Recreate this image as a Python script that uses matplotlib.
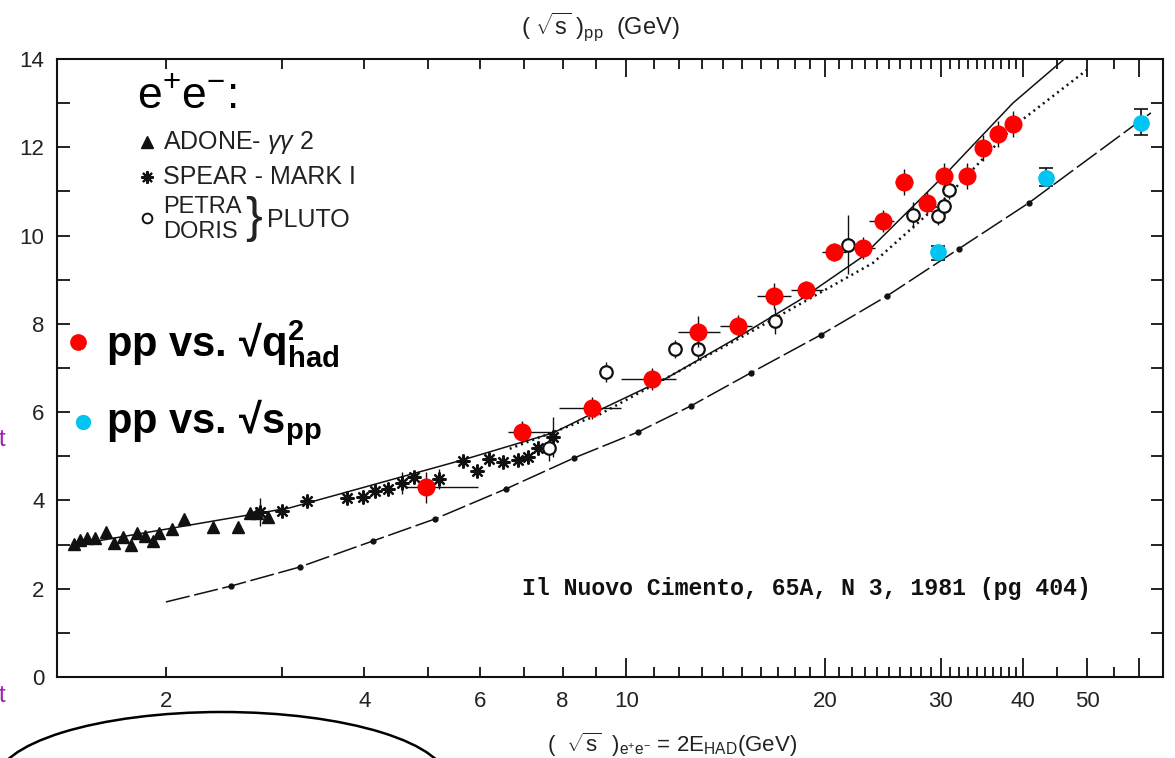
import matplotlib
matplotlib.use('Agg')
import matplotlib.pyplot as plt
from matplotlib.patches import Ellipse
from matplotlib.lines import Line2D
from matplotlib.ticker import FixedLocator, FixedFormatter, NullFormatter

plt.rcParams['font.family'] = ['Liberation Sans', 'DejaVu Sans']
plt.rcParams['mathtext.fontset'] = 'custom'
plt.rcParams['mathtext.rm'] = 'Liberation Sans'
plt.rcParams['mathtext.it'] = 'Liberation Sans:italic'
plt.rcParams['mathtext.bf'] = 'Liberation Sans:bold'

# ---------------- data ----------------
# ADONE - gamma gamma 2 (triangles)
tri_x = [1.45, 1.48, 1.52, 1.56, 1.62, 1.67, 1.72, 1.77, 1.81, 1.86, 1.91, 1.95, 2.04, 2.13, 2.36, 2.57, 2.68, 2.75, 2.86]
tri_y = [3.01, 3.10, 3.15, 3.15, 3.29, 3.04, 3.17, 2.99, 3.26, 3.19, 3.08, 3.26, 3.35, 3.58, 3.40, 3.40, 3.72, 3.72, 3.62]

# SPEAR - MARK I (asterisks)
star_x = [2.78, 3.00, 3.27, 3.77, 3.98, 4.15, 4.35, 4.56, 4.76, 5.19, 5.65, 5.93, 6.18, 6.49, 6.84, 7.09, 7.34, 7.74]
star_y = [3.74, 3.76, 3.99, 4.06, 4.08, 4.21, 4.26, 4.40, 4.53, 4.49, 4.89, 4.67, 4.94, 4.87, 4.91, 4.98, 5.19, 5.44]
star_err = [0.32, 0.10, 0.10, 0.10, 0.10, 0.10, 0.10, 0.25, 0.10, 0.22, 0.10, 0.10, 0.10, 0.10, 0.10, 0.10, 0.15, 0.45]

# PETRA / DORIS - PLUTO (open circles)
circ_x = [7.63, 9.31, 11.84, 12.84, 16.79, 21.67, 27.2, 29.69, 30.30, 30.9]
circ_y = [5.19, 6.91, 7.43, 7.43, 8.07, 9.79, 10.47, 10.44, 10.67, 11.03]
circ_err = [0.30, 0.22, 0.20, 0.25, 0.30, 0.67, 0.30, 0.20, 0.20, 0.20]

# pp vs sqrt(q^2_had) (red)
red_x = [4.96, 6.94, 8.86, 10.93, 12.84, 14.76, 16.73, 18.72, 20.63, 22.85, 24.49, 26.36, 28.56, 30.30, 32.85, 34.74, 36.61, 38.58]
red_y = [4.30, 5.55, 6.09, 6.75, 7.82, 7.95, 8.63, 8.77, 9.63, 9.72, 10.33, 11.21, 10.74, 11.35, 11.35, 11.98, 12.30, 12.53]
red_xlo = [4.63, 6.60, 7.90, 9.80, 11.96, 13.86, 15.8, 17.8, 19.8, 22.2, 23.3, 25.6, 28.0, 29.6, 32.3, 34.2, 36.0, 38.0]
red_xhi = [5.95, 7.74, 9.80, 11.90, 13.86, 15.5, 17.8, 19.9, 21.5, 23.8, 25.5, 27.2, 29.2, 31.0, 33.5, 35.3, 37.2, 39.2]
red_err = [0.35, 0.25, 0.25, 0.25, 0.35, 0.25, 0.30, 0.20, 0.20, 0.25, 0.25, 0.30, 0.25, 0.30, 0.30, 0.30, 0.30, 0.30]

# pp vs sqrt(s_pp) (cyan)
cyan_x = [29.69, 43.3, 60.3]
cyan_y = [9.63, 11.30, 12.55]
cyan_elo = [0.18, 0.18, 0.28]
cyan_ehi = [0.13, 0.23, 0.32]

# curves
fit_x = [1.45, 3.08, 5.65, 7.74, 9.11, 11.5, 14.5, 18.32, 22.76, 30.62, 38.58, 46.6]
fit_y = [2.99, 3.83, 4.92, 5.53, 6.05, 6.77, 7.63, 8.54, 9.51, 11.42, 13.0, 14.05]
dot_x = [6.65, 9.11, 14.86, 23.66, 30.62, 38.58, 49.95]
dot_y = [5.17, 5.95, 7.68, 9.38, 10.87, 12.46, 13.75]
pp_x = [2.0, 2.51, 3.19, 4.12, 5.12, 6.56, 8.32, 10.41, 12.52, 15.44, 19.72, 24.84, 31.94, 40.8, 62.5]
pp_y = [1.70, 2.06, 2.49, 3.08, 3.58, 4.26, 4.96, 5.55, 6.14, 6.89, 7.75, 8.63, 9.70, 10.74, 12.78]

# ticks
xmaj = [2, 4, 6, 8, 10, 20, 30, 40, 50, 60]
xlab = ['2', '4', '6', '8', '10', '20', '30', '40', '50', '']
xmin = [3, 5, 7, 9, 11, 12, 13, 14, 15, 16, 17, 18, 19, 21, 22, 23, 24, 25, 26, 27, 28, 29,
        31, 32, 33, 34, 35, 36, 37, 38, 39, 45, 55]
ymaj = [0, 2, 4, 6, 8, 10, 12, 14]
ymin = [1, 3, 5, 7, 9, 11, 13]

# ---------------- figure ----------------
W, H = 1175, 758
fig = plt.figure(figsize=(W / 100, H / 100), dpi=100)
ax = fig.add_axes([57 / W, 1 - 677 / H, (1163 - 57) / W, (677 - 59) / H])
ax.set_xscale('log')
ax.set_xlim(1.367, 65.2)
ax.set_ylim(0, 14)

def fx(px):
    return px / W

def fy(py):
    return 1 - py / H

ink = '#111111'

# curves
ax.plot(fit_x, fit_y, color=ink, lw=1.1, zorder=2)
ax.plot(dot_x, dot_y, color=ink, lw=1.8, ls=(0, (0.8, 1.6)), zorder=2)
ax.plot(pp_x, pp_y, color=ink, lw=1.1, ls=(0, (16, 3)), zorder=2)
ax.plot(pp_x[1:-1], pp_y[1:-1], 'o', color=ink, ms=3.5, ls='none', zorder=2)

# e+e- data
ax.plot(tri_x, tri_y, '^', color=ink, ms=9, ls='none', zorder=3)
ax.errorbar(star_x, star_y, yerr=star_err, fmt='none', ecolor=ink, elinewidth=1.0, zorder=3)
ax.plot(star_x, star_y, marker=(8, 2, 0), color=ink, ms=10, mew=1.6, ls='none', zorder=3)
ax.errorbar(circ_x, circ_y, yerr=circ_err, fmt='none', ecolor=ink, elinewidth=1.0, zorder=3)
ax.plot(circ_x, circ_y, 'o', mfc='white', mec=ink, mew=1.6, ms=9, ls='none', zorder=4)

# red points
red_xerr = [[x - lo for x, lo in zip(red_x, red_xlo)], [hi - x for x, hi in zip(red_x, red_xhi)]]
ax.errorbar(red_x, red_y, xerr=red_xerr, yerr=red_err, fmt='none', ecolor=ink, elinewidth=1.0, zorder=4)
ax.plot(red_x, red_y, 'o', color='#FF0000', ms=12, ls='none', zorder=5)

# cyan points
ax.errorbar(cyan_x, cyan_y, yerr=[cyan_elo, cyan_ehi], fmt='none', ecolor=ink, elinewidth=1.2,
            capsize=5, capthick=1.2, zorder=4)
ax.plot(cyan_x, cyan_y, 'o', color='#00C4F2', ms=11, ls='none', zorder=5)

# axes styling
for s in ax.spines.values():
    s.set_linewidth(1.5)
    s.set_color(ink)
ax.xaxis.set_major_locator(FixedLocator(xmaj))
ax.xaxis.set_major_formatter(FixedFormatter(xlab))
ax.xaxis.set_minor_locator(FixedLocator(xmin))
ax.xaxis.set_minor_formatter(NullFormatter())
ax.yaxis.set_major_locator(FixedLocator(ymaj))
ax.yaxis.set_minor_locator(FixedLocator(ymin))
ax.tick_params(axis='x', which='both', direction='in', top=True, width=1.3, length=7,
               pad=10, labelsize=16, labelcolor='#222222', color=ink)
ax.tick_params(axis='y', which='both', direction='in', right=True, width=1.3, length=9,
               pad=9, labelsize=16, labelcolor='#222222', color=ink)
for t, v in zip(ax.xaxis.get_major_ticks(), xmaj):
    if v >= 10:
        t.tick1line.set_markersize(14)
        t.tick2line.set_markersize(13)

# axis titles
fig.text(fx(600), fy(27), r'( $\sqrt{\rm s}$ )$_{\rm pp}$  (GeV)', ha='center', va='center',
         fontsize=17, color='#222222')
fig.text(fx(672), fy(745), r'(  $\sqrt{\rm s}$  )$_{\rm e^{+}e^{-}}$ = 2E$_{\rm HAD}$(GeV)',
         ha='center', va='center', fontsize=16, color='#222222')

# e+e- legend
fig.text(fx(137), fy(108), r'e$^{+}$e$^{-}$:', fontsize=32, va='baseline', color='black')
fig.add_artist(Line2D([fx(147)], [fy(142)], marker='^', color=ink, ms=8, transform=fig.transFigure))
fig.add_artist(Line2D([fx(147)], [fy(177)], marker=(8, 2, 0), color=ink, ms=9, mew=1.5,
                      transform=fig.transFigure))
fig.add_artist(Line2D([fx(147)], [fy(218)], marker='o', mfc='white', mec=ink, mew=1.4, ms=7,
                      transform=fig.transFigure))
fig.text(fx(163), fy(142), r'ADONE- $\gamma\gamma$ 2', fontsize=18, va='center', color='#222222')
fig.text(fx(163), fy(177), 'SPEAR - MARK I', fontsize=18, va='center', color='#222222')
fig.text(fx(163), fy(207), 'PETRA', fontsize=17, va='center', color='#222222')
fig.text(fx(163), fy(232), 'DORIS', fontsize=17, va='center', color='#222222')
fig.text(fx(245), fy(219), '}', fontsize=36, va='center', color='#222222')
fig.text(fx(267), fy(220), 'PLUTO', fontsize=18, va='center', color='#222222')

# overlay legend
fig.add_artist(Line2D([fx(78)], [fy(342)], marker='o', color='#FF0000', ms=11, transform=fig.transFigure))
fig.add_artist(Line2D([fx(83)], [fy(422)], marker='o', color='#00C4F2', ms=10, transform=fig.transFigure))
fig.text(fx(106), fy(357), r'$\mathbf{pp\ vs.\,√q^{2}_{had}}$', fontsize=30, va='baseline', color='black')
fig.text(fx(106), fy(433), r'$\mathbf{pp\ vs.\,√s_{pp}}$', fontsize=30, va='baseline', color='black')

# reference note
fig.text(fx(522), fy(588), 'Il Nuovo Cimento, 65A, N 3, 1981 (pg 404)', family='Liberation Mono',
         fontweight='bold', fontsize=16.7, va='center', color='#111111')

# stray purple letters at the left edge
fig.text(fx(-1), fy(440), 't', color='#A01EB4', fontsize=17, va='center', ha='left')
fig.text(fx(-1), fy(696), 't', color='#A01EB4', fontsize=17, va='center', ha='left')

# ellipse at the bottom left
fig.add_artist(Ellipse((fx(222), fy(782)), width=452 / W, height=140 / H, transform=fig.transFigure,
                       fill=False, lw=1.8, ec='black'))

fig.savefig('out.png', dpi=100)
